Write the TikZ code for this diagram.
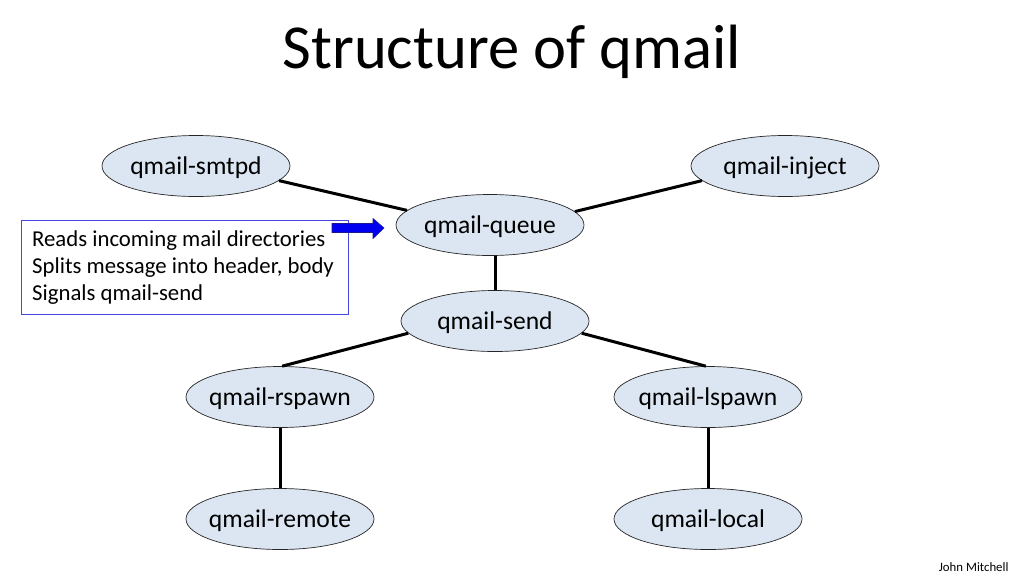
\documentclass[tikz,border=0pt]{standalone}
\usepackage{fontspec}
\setmainfont{Carlito}
\usetikzlibrary{shapes.geometric}
\definecolor{ellfill}{HTML}{DCE6F2}
\definecolor{boxblue}{HTML}{4646E0}
\definecolor{arrowblue}{HTML}{0000F0}
\definecolor{arrowedge}{HTML}{1A1A8C}
\tikzset{
  proc/.style={ellipse, draw=black!85, line width=0.7pt, fill=ellfill,
    minimum width=188pt, minimum height=61pt, inner xsep=-30pt, inner ysep=0pt,
    text depth=0pt, font=\fontsize{25.6}{30}\selectfont},
  link/.style={line width=3pt, black}
}
\begin{document}
\begin{tikzpicture}[x=1pt,y=-1pt]
\useasboundingbox (0,0) rectangle (1024,576);
\fill[white] (0,0) rectangle (1024,576);
\node[anchor=base, font=\fontsize{62.6}{70}\selectfont] (title) at (512,68) {Structure of qmail};

\node[proc] (smtpd)  at (196,166) {qmail-smtpd};
\node[proc] (inject) at (785,166) {qmail-inject};
\node[proc] (queue)  at (490,225) {qmail-queue};
\node[proc] (send)   at (495,321) {qmail-send};
\node[proc] (rspawn) at (280,397) {qmail-rspawn};
\node[proc] (lspawn) at (708,397) {qmail-lspawn};
\node[proc] (remote) at (280,519) {qmail-remote};
\node[proc] (local)  at (708,519) {qmail-local};

\draw[link] (smtpd.350) -- (queue.170);
\draw[link] (inject.190) -- (queue.9);
\draw[link] (send.north) -- (send.north |- queue.south);
\draw[link] (send.188) -- (rspawn.86);
\draw[link] (send.352) -- (lspawn.94);
\draw[link] (rspawn.south) -- (remote.north);
\draw[link] (lspawn.south) -- (local.north);

\node[draw=boxblue, line width=0.8pt, anchor=north west, minimum width=327pt, minimum height=94pt,
  inner sep=0pt] (desc) at (21,220) {};
\node[anchor=west, inner sep=0pt, align=left,
  font=\fontsize{22.75}{27}\selectfont] (desctext) at ([xshift=11pt]desc.west)
  {Reads incoming mail directories\\Splits message into header, body\\Signals qmail-send};

\coordinate (atail) at (332,228);
\coordinate (atip) at (384,228);
\draw[fill=arrowblue, draw=arrowedge, line width=0.6pt]
  (atail) ++(0,-4.5) -- (373,223.5) -- (373,218.5) -- (atip) -- (373,238.5) -- (373,232.5) -- (332,232.5) -- cycle;

\node[anchor=base east, font=\fontsize{12.8}{15}\selectfont] (author) at (1012,571) {John Mitchell};
\end{tikzpicture}
\end{document}
